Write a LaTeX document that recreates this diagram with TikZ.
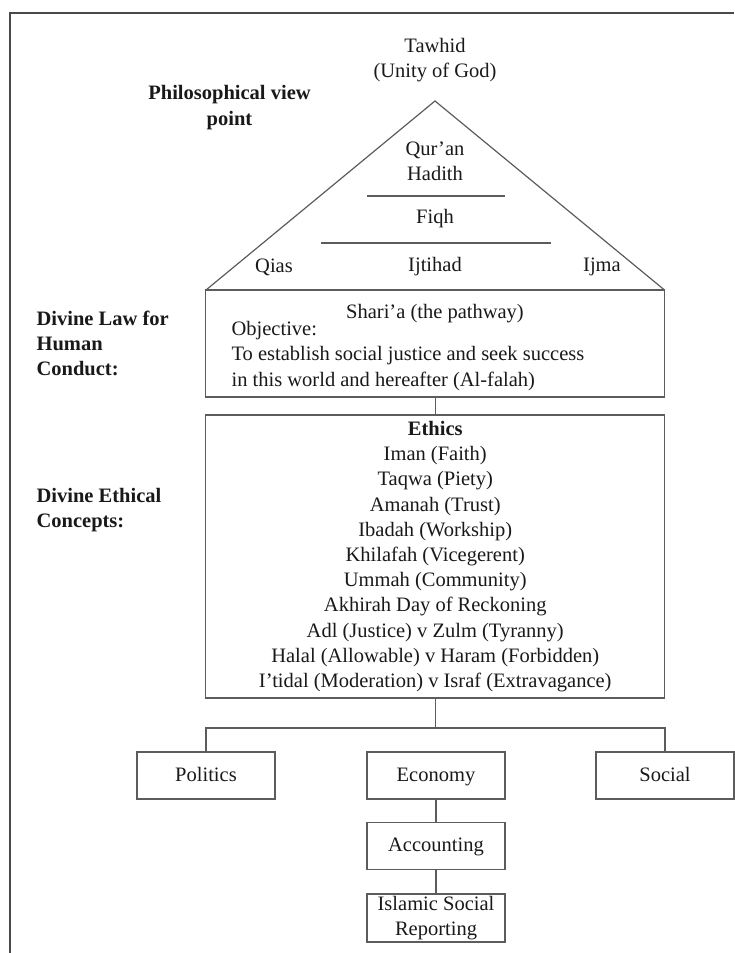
\documentclass[tikz,border=0pt]{standalone}
\usepackage{fontspec}
\setmainfont{Liberation Serif}
\usepackage{xcolor}
\definecolor{linegray}{HTML}{5C5C5C}
\definecolor{framegray}{HTML}{4A4A4A}

\begin{document}
\begin{tikzpicture}
	[x=1pt, y=-1pt, line width=1.2pt,
	txt/.style = {
		font=\fontsize{20.5}{25.2}\selectfont, text=black!90, inner sep=0pt
	},
	head/.style = {
		txt, font=\fontsize{20.5}{25.2}\selectfont\bfseries, align=left
	},
	box/.style = {
		draw=linegray, txt, align=center, minimum width=138, minimum height=47
	},
	onebox/.style = {
		box, text height=15, text depth=4
	},
	bigbox/.style = {
		draw=linegray, txt, align=center, minimum width=459
	},
	wire/.style = {
		draw=linegray
	}]

	\useasboundingbox (0,0) rectangle (734,953);
	\draw[line width=2pt, draw=framegray] (734,12.5) -- (9.5,12.5) -- (9.5,953);

	%Draw nodes
	\node[txt, align=center] at (435,60) (tawhid) {Tawhid\\(Unity of God)};
	\node[head, align=center] at (229.5,107.5) (philo) {Philosophical view\\point};
	\coordinate (apex) at (435,101);
	\coordinate (baseleft) at (206,290);
	\coordinate (baseright) at (664.5,290);
	\node[txt, align=center] at (435,161.5) (quran) {Qur'an\\Hadith};
	\node[txt] at (435,219) (fiqh) {Fiqh};
	\node[txt] at (274,267) (qias) {Qias};
	\node[txt] at (435,267) (ijtihad) {Ijtihad};
	\node[txt] at (602,267) (ijma) {Ijma};

	\node[bigbox, minimum height=107] at (435.25,343.5) (sharia) {};
	\node[txt] at (435,314) (pathway) {Shari'a (the pathway)};
	\node[txt, align=left, anchor=west] at (231,356) (objective)
		{Objective:\\To establish social justice and seek success\\in this world and hereafter (Al-falah)};
	\node[head, anchor=west] at (36,343.5) (lawlabel) {Divine Law for\\Human\\Conduct:};

	\node[bigbox, minimum height=283] at (435.25,556.5) (ethics)
		{\textbf{Ethics}\\Iman (Faith)\\Taqwa (Piety)\\Amanah (Trust)\\Ibadah (Workship)\\
		Khilafah (Vicegerent)\\Ummah (Community)\\Akhirah Day of Reckoning\\
		Adl (Justice) v Zulm (Tyranny)\\Halal (Allowable) v Haram (Forbidden)\\
		I'tidal (Moderation) v Israf (Extravagance)};
	\node[head, anchor=west] at (36,510) (ethicslabel) {Divine Ethical\\Concepts:};

	\coordinate (split) at (435.25,728);
	\node[onebox] at (206,775.5) (politics) {Politics};
	\node[onebox] at (436,775.5) (economy) {Economy};
	\node[onebox] at (665,775.5) (social) {Social};
	\node[onebox] at (436,846) (accounting) {Accounting};
	\node[box, minimum height=48] at (436,918) (reporting) {Islamic Social\\Reporting};

	%Draw wires
	\draw[wire] (baseleft) -- (apex) -- (baseright);
	\draw[wire] (367,196) -- (505,196);
	\draw[wire] (321,243) -- (551,243);
	\draw[wire] (sharia) -- (ethics);
	\draw[wire] (ethics.south) -- (split);
	\draw[wire] (politics.north) |- (split) -| (social.north);
	\draw[wire] (economy) -- (accounting);
	\draw[wire] (accounting) -- (reporting);
\end{tikzpicture}
\end{document}
